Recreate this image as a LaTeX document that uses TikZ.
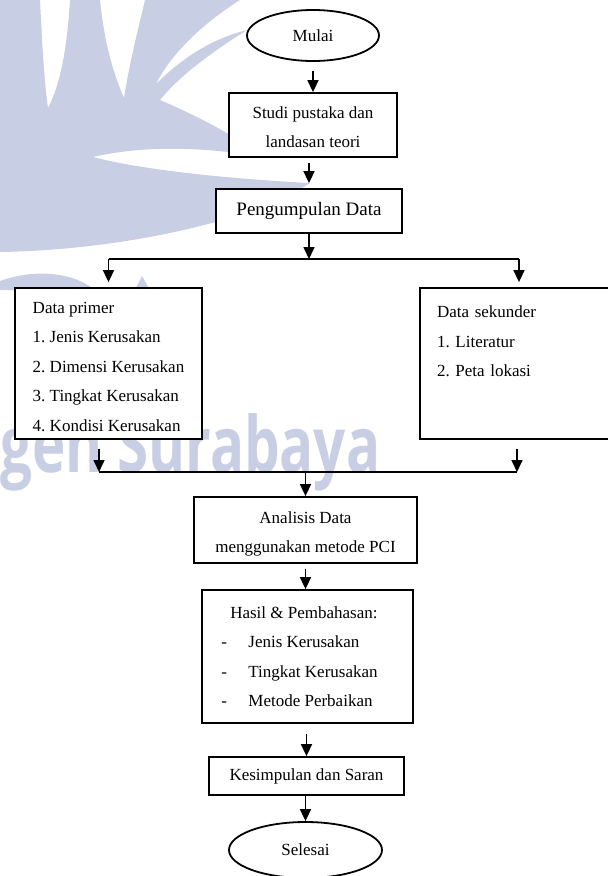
\documentclass[tikz,border=0pt]{standalone}
\usepackage{fontspec}
\setmainfont{Liberation Serif}
\newfontfamily\wmfont{Open Sans}
\usetikzlibrary{arrows.meta}
\usetikzlibrary{shapes.geometric}
\definecolor{tanda}{RGB}{200,206,228}
\newcommand{\atas}[1]{\rule{0pt}{#1}}

\tikzset{
  kotak/.style={draw, line width=1.8pt, fill=white, inner sep=0pt, align=center,
    font=\fontsize{17}{29.5}\selectfont\frenchspacing},
  elips/.style={kotak, ellipse},
  panah/.style={line width=1.6pt, -{Triangle[length=12pt,width=11pt]}},
  garis/.style={line width=1.2pt}
}

\begin{document}
\begin{tikzpicture}[x=1pt,y=-1pt]
\useasboundingbox (0,0) rectangle (608,876);
% watermark
\fill[tanda] (0,0) -- (40,0) .. controls (42,40) and (44,80) .. (48,108)
  .. controls (60,85) and (67,50) .. (70,0) -- (100,0)
  .. controls (104,40) and (112,70) .. (124,98)
  .. controls (130,60) and (138,30) .. (145,0) -- (240,0)
  .. controls (205,22) and (172,52) .. (156,84)
  .. controls (185,55) and (215,38) .. (247,30)
  .. controls (215,50) and (180,75) .. (160,100)
  .. controls (195,115) and (235,135) .. (262,157)
  .. controls (200,146) and (140,146) .. (93,157)
  .. controls (150,172) and (250,180) .. (310,183)
  .. controls (250,222) and (120,250) .. (0,252) -- cycle;
\fill[tanda] (0,290) -- (0,281) .. controls (30,270) and (70,270) .. (95,290) -- cycle;
\fill[tanda] (135,290) -- (142,276) -- (150,290) -- cycle;
\node[anchor=base west, inner sep=0pt, text=tanda] (wm) at (0,472)
  {\resizebox{380pt}{59pt}{\wmfont\bfseries gen Surabaya}};

\node[elips, minimum width=132pt, minimum height=51pt] (mulai) at (313,35.5) {Mulai};
\node[kotak, minimum width=168pt, minimum height=64pt] (studi) at (313,125) {\atas{16pt}Studi pustaka dan\\landasan teori};
\node[kotak, minimum width=186pt, minimum height=44pt, font=\fontsize{19}{23}\selectfont] (kumpul) at (309,211) {Pengumpulan Data};
\node[kotak, minimum width=187pt, minimum height=151pt, align=left] (primer) at (108.5,363.5)
  {\atas{18pt}Data primer\\1. Jenis Kerusakan\\2. Dimensi Kerusakan\\3. Tingkat Kerusakan\\4. Kondisi Kerusakan};
\node[kotak, minimum width=198pt, minimum height=151pt, text width=164pt, align=left] (sekunder) at (519,363.5)
  {\atas{26pt}Data sekunder\\1. Literatur\\2. Peta lokasi\\\mbox{}\\\mbox{}};
\node[kotak, minimum width=223pt, minimum height=66pt] (analisis) at (305.5,530) {\atas{20pt}Analisis Data\\menggunakan metode PCI};
\node[kotak, minimum width=211pt, minimum height=133pt] (hasil) at (307.5,656.5)
  {\raisebox{6pt}{\begin{tabular}{@{}p{27pt}@{}l@{}}
    \multicolumn{2}{@{}r@{}}{Hasil \& Pembahasan:}\\
    - & Jenis Kerusakan\\
    - & Tingkat Kerusakan\\
    - & Metode Perbaikan
  \end{tabular}}\hspace{16pt}};
\node[kotak, minimum width=195pt, minimum height=38pt] (simpul) at (306.5,776) {Kesimpulan dan Saran};
\node[elips, minimum width=153pt, minimum height=56pt] (selesai) at (305.5,850) {Selesai};

\coordinate (cabang) at (kumpul.south |- 0,259);
\coordinate (kiri) at (99,472);
\coordinate (kanan) at (517,472);

\draw[panah, shorten <=9pt] (mulai) -- (studi);
\draw[panah, shorten <=5pt, shorten >=5pt] (kumpul.north |- studi.south) -- (kumpul.north);
\draw[panah] (kumpul) -- (cabang);
\draw[garis] (cabang -| primer) -- (cabang -| sekunder);
\draw[panah, shorten >=5pt] (cabang -| primer) -- (primer);
\draw[panah, shorten >=5pt] (cabang -| sekunder) -- (sekunder);
\draw[panah, shorten <=9pt] (primer.south -| kiri) -- (kiri);
\draw[panah, shorten <=9pt] (sekunder.south -| kanan) -- (kanan);
\draw[garis] (kiri) -- (kanan);
\draw[panah] (analisis.north |- kiri) -- (analisis.north);
\draw[panah, shorten <=5pt] (analisis.south) -- (analisis.south |- hasil.north);
\draw[panah, shorten <=10pt] (simpul.north |- hasil.south) -- (simpul.north);
\draw[panah] (selesai.north |- simpul.south) -- (selesai.north);
\end{tikzpicture}
\end{document}
